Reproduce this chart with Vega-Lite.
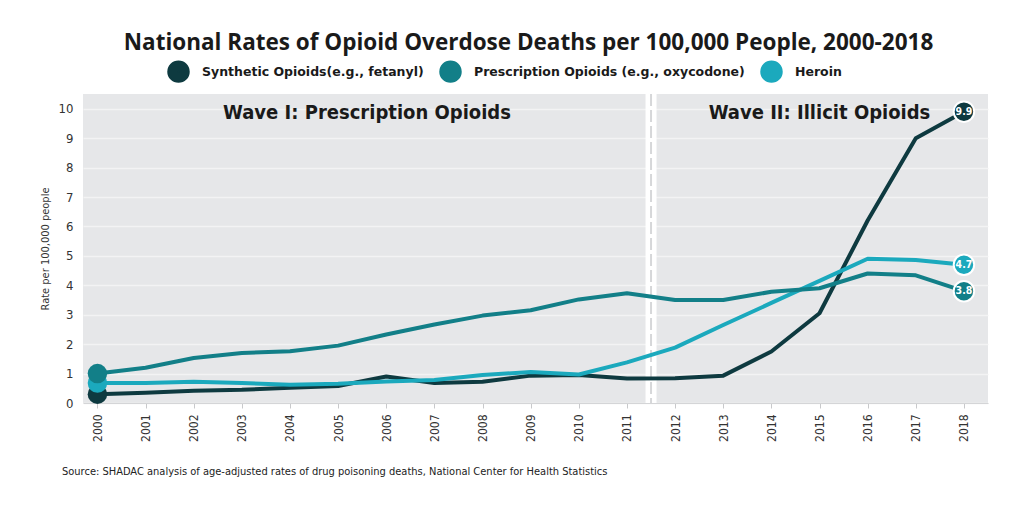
{
  "$schema": "https://vega.github.io/schema/vega-lite/v6.json",
  "autosize": "none",
  "width": 905,
  "height": 309,
  "padding": {"left": 83, "top": 94, "right": 30, "bottom": 115},
  "background": "white",
  "title": {
    "text": "National Rates of Opioid Overdose Deaths per 100,000 People, 2000-2018",
    "font": "Open Sans",
    "fontSize": 22.5,
    "fontWeight": "bold",
    "color": "#1a1a1a",
    "anchor": "middle",
    "dx": -7,
    "offset": 6
  },
  "config": {
    "view": {"fill": "#e6e7e9", "stroke": null},
    "axis": {"labelFont": "DejaVu Sans Condensed, sans-serif", "titleFont": "DejaVu Sans Condensed, sans-serif"}
  },
  "datasets": {
    "rates": [
      {"series": "Synthetic Opioids(e.g., fetanyl)", "year": 2000, "rate": 0.3},
      {"series": "Synthetic Opioids(e.g., fetanyl)", "year": 2001, "rate": 0.35},
      {"series": "Synthetic Opioids(e.g., fetanyl)", "year": 2002, "rate": 0.42},
      {"series": "Synthetic Opioids(e.g., fetanyl)", "year": 2003, "rate": 0.45},
      {"series": "Synthetic Opioids(e.g., fetanyl)", "year": 2004, "rate": 0.52},
      {"series": "Synthetic Opioids(e.g., fetanyl)", "year": 2005, "rate": 0.58},
      {"series": "Synthetic Opioids(e.g., fetanyl)", "year": 2006, "rate": 0.9},
      {"series": "Synthetic Opioids(e.g., fetanyl)", "year": 2007, "rate": 0.68},
      {"series": "Synthetic Opioids(e.g., fetanyl)", "year": 2008, "rate": 0.72},
      {"series": "Synthetic Opioids(e.g., fetanyl)", "year": 2009, "rate": 0.93},
      {"series": "Synthetic Opioids(e.g., fetanyl)", "year": 2010, "rate": 0.95},
      {"series": "Synthetic Opioids(e.g., fetanyl)", "year": 2011, "rate": 0.83},
      {"series": "Synthetic Opioids(e.g., fetanyl)", "year": 2012, "rate": 0.84},
      {"series": "Synthetic Opioids(e.g., fetanyl)", "year": 2013, "rate": 0.93},
      {"series": "Synthetic Opioids(e.g., fetanyl)", "year": 2014, "rate": 1.75},
      {"series": "Synthetic Opioids(e.g., fetanyl)", "year": 2015, "rate": 3.05},
      {"series": "Synthetic Opioids(e.g., fetanyl)", "year": 2016, "rate": 6.2},
      {"series": "Synthetic Opioids(e.g., fetanyl)", "year": 2017, "rate": 9.0},
      {"series": "Synthetic Opioids(e.g., fetanyl)", "year": 2018, "rate": 9.9},
      {"series": "Heroin", "year": 2000, "rate": 0.68},
      {"series": "Heroin", "year": 2001, "rate": 0.68},
      {"series": "Heroin", "year": 2002, "rate": 0.72},
      {"series": "Heroin", "year": 2003, "rate": 0.68},
      {"series": "Heroin", "year": 2004, "rate": 0.62},
      {"series": "Heroin", "year": 2005, "rate": 0.65},
      {"series": "Heroin", "year": 2006, "rate": 0.73},
      {"series": "Heroin", "year": 2007, "rate": 0.78},
      {"series": "Heroin", "year": 2008, "rate": 0.95},
      {"series": "Heroin", "year": 2009, "rate": 1.05},
      {"series": "Heroin", "year": 2010, "rate": 0.97},
      {"series": "Heroin", "year": 2011, "rate": 1.38},
      {"series": "Heroin", "year": 2012, "rate": 1.88},
      {"series": "Heroin", "year": 2013, "rate": 2.65},
      {"series": "Heroin", "year": 2014, "rate": 3.4},
      {"series": "Heroin", "year": 2015, "rate": 4.15},
      {"series": "Heroin", "year": 2016, "rate": 4.9},
      {"series": "Heroin", "year": 2017, "rate": 4.86},
      {"series": "Heroin", "year": 2018, "rate": 4.7},
      {"series": "Prescription Opioids (e.g., oxycodone)", "year": 2000, "rate": 1.0},
      {"series": "Prescription Opioids (e.g., oxycodone)", "year": 2001, "rate": 1.2},
      {"series": "Prescription Opioids (e.g., oxycodone)", "year": 2002, "rate": 1.53},
      {"series": "Prescription Opioids (e.g., oxycodone)", "year": 2003, "rate": 1.7},
      {"series": "Prescription Opioids (e.g., oxycodone)", "year": 2004, "rate": 1.76},
      {"series": "Prescription Opioids (e.g., oxycodone)", "year": 2005, "rate": 1.95},
      {"series": "Prescription Opioids (e.g., oxycodone)", "year": 2006, "rate": 2.33},
      {"series": "Prescription Opioids (e.g., oxycodone)", "year": 2007, "rate": 2.67},
      {"series": "Prescription Opioids (e.g., oxycodone)", "year": 2008, "rate": 2.97},
      {"series": "Prescription Opioids (e.g., oxycodone)", "year": 2009, "rate": 3.15},
      {"series": "Prescription Opioids (e.g., oxycodone)", "year": 2010, "rate": 3.52},
      {"series": "Prescription Opioids (e.g., oxycodone)", "year": 2011, "rate": 3.73},
      {"series": "Prescription Opioids (e.g., oxycodone)", "year": 2012, "rate": 3.5},
      {"series": "Prescription Opioids (e.g., oxycodone)", "year": 2013, "rate": 3.5},
      {"series": "Prescription Opioids (e.g., oxycodone)", "year": 2014, "rate": 3.78},
      {"series": "Prescription Opioids (e.g., oxycodone)", "year": 2015, "rate": 3.9},
      {"series": "Prescription Opioids (e.g., oxycodone)", "year": 2016, "rate": 4.4},
      {"series": "Prescription Opioids (e.g., oxycodone)", "year": 2017, "rate": 4.34},
      {"series": "Prescription Opioids (e.g., oxycodone)", "year": 2018, "rate": 3.8}
    ],
    "waves": [
      {"label": "Wave I: Prescription Opioids", "year": 2005.6, "rate": 9.85},
      {"label": "Wave II: Illicit Opioids", "year": 2015.0, "rate": 9.85}
    ],
    "divider": [{"year": 2011.5, "rate": 0}],
    "source": [{"text": "Source: SHADAC analysis of age-adjusted rates of drug poisoning deaths, National Center for Health Statistics", "year": 1999.7, "rate": 0}]
  },
  "encoding": {
    "x": {
      "field": "year", "type": "quantitative",
      "scale": {"domain": [1999.7, 2018.5], "nice": false, "zero": false},
      "axis": {
        "values": [2000, 2001, 2002, 2003, 2004, 2005, 2006, 2007, 2008, 2009, 2010, 2011, 2012, 2013, 2014, 2015, 2016, 2017, 2018],
        "format": "d", "labelAngle": -90, "labelFontSize": 12, "labelColor": "#333333", "labelOverlap": false,
        "grid": false, "domain": true, "domainColor": "#d4d5d7", "ticks": true, "tickColor": "#c8c9cb", "tickSize": 5,
        "labelPadding": 6, "title": null, "labelAlign": "right", "labelBaseline": "middle"
      }
    },
    "y": {
      "field": "rate", "type": "quantitative",
      "scale": {"domain": [0, 10.5], "nice": false},
      "axis": {
        "values": [0, 1, 2, 3, 4, 5, 6, 7, 8, 9, 10], "labelOverlap": false, "tickCount": 11,
        "grid": true, "gridColor": "#f3f3f4", "gridWidth": 1.5,
        "domain": false, "ticks": false, "labelFontSize": 13, "labelColor": "#333333", "labelPadding": 10,
        "title": "Rate per 100,000 people", "titleFontSize": 11, "titleFontWeight": "normal", "titleColor": "#333333", "titlePadding": 8
      }
    }
  },
  "layer": [
    {
      "data": {"name": "divider"},
      "mark": {"type": "rule", "color": "white", "strokeWidth": 11},
      "encoding": {"y": null}
    },
    {
      "data": {"name": "divider"},
      "mark": {"type": "rule", "color": "#d6d7d9", "strokeWidth": 2, "strokeDash": [12, 4]},
      "encoding": {"y": null}
    },
    {
      "data": {"name": "waves"},
      "mark": {"type": "text", "font": "DejaVu Sans Condensed, sans-serif", "fontSize": 20, "fontWeight": "bold", "color": "#1a1a1a", "align": "center", "baseline": "middle"},
      "encoding": {
        "text": {"field": "label"}
      }
    },
    {
      "data": {"name": "rates"},
      "mark": {"type": "line", "strokeWidth": 4, "strokeCap": "round", "strokeJoin": "round"},
      "encoding": {
        "color": {
          "field": "series", "type": "nominal",
          "scale": {"domain": ["Synthetic Opioids(e.g., fetanyl)", "Prescription Opioids (e.g., oxycodone)", "Heroin"], "range": ["#0e3a40", "#127f88", "#1ba9bd"]},
          "legend": {
            "orient": "none", "legendX": 84, "legendY": -34, "direction": "horizontal", "title": null,
            "symbolType": "circle", "symbolSize": 110, "symbolStrokeWidth": 12, "symbolOpacity": 1,
            "labelFont": "DejaVu Sans", "labelFontSize": 12.5, "labelFontWeight": "bold", "labelColor": "#1a1a1a",
            "labelLimit": 400, "columnPadding": -3, "labelOffset": 12
          }
        },
        "order": {"field": "year", "type": "quantitative"}
      }
    },
    {
      "data": {"name": "rates"},
      "transform": [{"filter": "datum.year == 2000"}],
      "mark": {"type": "point", "filled": true, "opacity": 1, "size": 380, "strokeWidth": 0},
      "encoding": {
        "fill": {"field": "series", "type": "nominal", "scale": {"domain": ["Synthetic Opioids(e.g., fetanyl)", "Prescription Opioids (e.g., oxycodone)", "Heroin"], "range": ["#0e3a40", "#127f88", "#1ba9bd"]}, "legend": null}
      }
    },
    {
      "data": {"name": "rates"},
      "transform": [{"filter": "datum.year == 2018"}],
      "mark": {"type": "point", "filled": true, "opacity": 1, "size": 420, "stroke": "white", "strokeWidth": 2},
      "encoding": {
        "fill": {"field": "series", "type": "nominal", "legend": null}
      }
    },
    {
      "data": {"name": "rates"},
      "transform": [{"filter": "datum.year == 2018"}],
      "mark": {"type": "text", "color": "white", "font": "DejaVu Sans Condensed, sans-serif", "fontSize": 10.5, "fontWeight": "bold", "align": "center", "baseline": "middle"},
      "encoding": {
        "text": {"field": "rate", "type": "quantitative", "format": ".1f"}
      }
    },
    {
      "data": {"name": "source"},
      "mark": {"type": "text", "font": "DejaVu Sans Condensed, sans-serif", "fontSize": 11, "color": "#222222", "align": "left", "baseline": "middle", "dx": -21, "dy": 69},
      "encoding": {
        "text": {"field": "text"}
      }
    }
  ]
}
